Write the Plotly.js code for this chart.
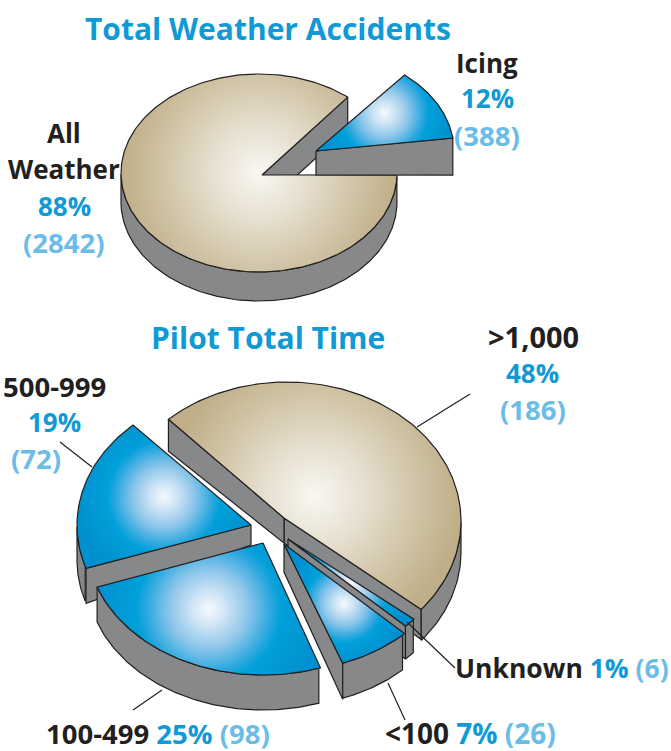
<!DOCTYPE html>
<html><head><meta charset="utf-8">
<script src="https://cdn.plot.ly/plotly-3.0.1.min.js"></script>
<style>html,body{margin:0;padding:0;background:#fff}</style></head>
<body><div id="chart" style="width:671px;height:751px"></div>
<script>
// ---- data ----
const weatherCategories = ['All Weather', 'Icing'];
const weatherPercents = [88, 12];
const weatherCounts = [2842, 388];
const pilotCategories = ['>1,000', '500-999', '100-499', '<100', 'Unknown'];
const pilotPercents = [48, 19, 25, 7, 1];
const pilotCounts = [186, 72, 98, 26, 6];
const titles = ['Total Weather Accidents', 'Pilot Total Time'];

// ---- styles ----
const INK = '#231f20', BLUE = '#0f9ad6', PALE = '#6cbce8', GREY = '#87888a';
const TAN = [[0,'#f9f7f2'],[0.35,'#e6dfcf'],[0.7,'#d0c4a6'],[1,'#bfae88']];
const AZURE = [[0,'#f5f9fd'],[0.15,'#cfe5f5'],[0.35,'#8ec6ea'],[0.55,'#2fa9df'],[0.65,'#00a0da'],[1,'#0090d0']];
const FONT = '"Open Sans", sans-serif';

// ---- 3-D look of each slice: apex, ellipse, start angle, sweep stretch, side faces ----
const weatherShape = [
 {ax:262,ay:175,cx:259,cy:173,rx:138,ry:99,t0:50,k:0.975,depth:29,paint:TAN,faces:[['start',32,32]]},
 {ax:316,ay:151,cx:316,cy:151,rx:138,ry:99,t0:7.5,k:0.985,depth:0,paint:AZURE,faces:[['start',24,37]]}
];
const pilotShape = [
 {ax:284,ay:518,cx:287,cy:521,rx:174,ry:139,t0:-39.5,k:0.998,depth:31,paint:TAN,faces:[['start',25,30],['end',25,32]]},
 {ax:251,ay:525,cx:251,cy:525,rx:174,ry:136,t0:132.7,k:0.963,depth:35,paint:AZURE,faces:[['end',20,35]]},
 {ax:263,ay:543,cx:263,cy:543,rx:176,ry:132,t0:199.5,k:0.995,depth:35,paint:AZURE,faces:[]},
 {ax:284,ay:544,cx:284,cy:544,rx:170,ry:127,t0:290.2,k:0.99,depth:35,paint:AZURE,faces:[['start',28,36]]},
 {ax:288,ay:539,cx:288,cy:539,rx:165,ry:124,t0:315.4,k:1.2,depth:33,paint:AZURE,faces:[['start',30,33]]}
];
const pilotDrawOrder = [0, 1, 2, 4, 3];

function at(g, t, d) {
  const r = t * Math.PI / 180;
  return [g.cx + g.rx * Math.cos(r), g.cy - g.ry * Math.sin(r) + (d || 0)];
}
function poly(points, paint) {
  const x = points.map(p => p[0]).concat(points[0][0]);
  const y = points.map(p => p[1]).concat(points[0][1]);
  const t = {type:'scatter', mode:'lines', x, y, fill:'toself', hoverinfo:'skip', showlegend:false,
             line:{color:INK, width:1.2, shape:'linear'}};
  if (paint) { t.fillcolor = paint[paint.length-1][1]; t.fillgradient = {type:'radial', colorscale:paint}; }
  else t.fillcolor = GREY;
  return t;
}
function sliceTraces(percent, g) {
  const out = [], sweep = percent * 3.6 * g.k, t1 = g.t0 + sweep;
  const start = at(g, g.t0), end = at(g, t1);
  g.faces.forEach(f => {
    const e = f[0] === 'start' ? start : end;
    out.push(poly([[g.ax,g.ay],e,[e[0],e[1]+f[2]],[g.ax,g.ay+f[1]]]));
  });
  if (g.depth > 0) {
    const low = [];
    for (let t = g.t0; t <= t1 + 1e-6; t += Math.min(1, sweep / 4)) {
      if (Math.sin(t * Math.PI / 180) <= 0) low.push(t);
    }
    if (low.length > 1) {
      const up = low.map(t => at(g, t));
      const dn = low.slice().reverse().map(t => at(g, t, g.depth));
      out.push(poly(up.concat(dn)));
    }
  }
  const top = [[g.ax, g.ay]], n = Math.max(6, Math.ceil(sweep));
  for (let i = 0; i <= n; i++) top.push(at(g, g.t0 + sweep * i / n));
  out.push(poly(top, g.paint));
  return out;
}
const traces = [];
weatherPercents.forEach((p, i) => traces.push(...sliceTraces(p, weatherShape[i])));
pilotDrawOrder.forEach(i => traces.push(...sliceTraces(pilotPercents[i], pilotShape[i])));

// ---- text ----
const WORD = 26, NUM = 27.5;
function label(x, y, text, color, size, anchor) {
  return {x, y, xref:'x', yref:'y', text, showarrow:false, xanchor:anchor || 'center', yanchor:'middle',
          font:{family:FONT, size:size || WORD, color:color || INK, weight:700}};
}
const span = (c, s) => `<span style="color:${c}">${s}</span>`;
const annotations = [
  label(268, 28, titles[0], BLUE, 30),
  label(268, 337, titles[1], BLUE, 30),
  label(64, 133, weatherCategories[0].split(' ')[0]),
  label(64, 169, weatherCategories[0].split(' ')[1]),
  label(64, 206, weatherPercents[0] + '%', BLUE),
  label(64, 242, '(' + weatherCounts[0] + ')', PALE, NUM),
  label(487, 63, weatherCategories[1]),
  label(487, 98, weatherPercents[1] + '%', BLUE),
  label(487, 135, '(' + weatherCounts[1] + ')', PALE, NUM),
  label(533, 336, pilotCategories[0], INK, 29),
  label(532, 373, pilotPercents[0] + '%', BLUE),
  label(533, 409, '(' + pilotCounts[0] + ')', PALE, NUM),
  label(54, 386, pilotCategories[1], INK, NUM),
  label(54, 422, pilotPercents[1] + '%', BLUE),
  label(36, 458, '(' + pilotCounts[1] + ')', PALE, NUM),
  label(44, 733, pilotCategories[2] + ' ' + span(BLUE, pilotPercents[2] + '%') + ' ' + span(PALE, '(' + pilotCounts[2] + ')'), INK, 27.5, 'left'),
  label(383, 733, '&lt;100 ' + span(BLUE, pilotPercents[3] + '%') + ' ' + span(PALE, '(' + pilotCounts[3] + ')'), INK, 28, 'left'),
  label(453, 668, pilotCategories[4] + ' ' + span(BLUE, pilotPercents[4] + '%') + ' ' + span(PALE, '(' + pilotCounts[4] + ')'), INK, 26.5, 'left')
];

// ---- leader lines ----
const leaderLines = [[417,427,470,394],[60,442,92,467],[133,710,162,690],[388,683,405,720],[407,622,455,668]];
const shapes = leaderLines.map(l => ({type:'line', xref:'x', yref:'y', x0:l[0], y0:l[1], x1:l[2], y1:l[3],
  line:{color:INK, width:1.2}, layer:'above'}));

const hidden = {visible:false, fixedrange:true};
function roundGradients() {
  // the reference's highlights are round, centred on each slice's box
  document.querySelectorAll('#chart path.js-fill').forEach(p => {
    const m = /url\(["']?#([^"')]+)["']?\)/.exec(p.style.fill || '');
    if (!m) return;
    const grad = document.getElementById(m[1]);
    if (!grad) return;
    const b = p.getBBox();
    grad.setAttribute('gradientUnits', 'userSpaceOnUse');
    grad.setAttribute('cx', b.x + b.width / 2);
    grad.setAttribute('cy', b.y + b.height / 2);
    grad.setAttribute('r', b.width / 2);
  });
}
Plotly.newPlot('chart', traces, {
  width:671, height:751, margin:{l:0,r:0,t:0,b:0}, showlegend:false,
  paper_bgcolor:'#fff', plot_bgcolor:'#fff',
  xaxis:Object.assign({range:[0,671]}, hidden),
  yaxis:Object.assign({range:[751,0]}, hidden),
  annotations, shapes
}, {displayModeBar:false, staticPlot:true}).then(roundGradients);
</script></body></html>
